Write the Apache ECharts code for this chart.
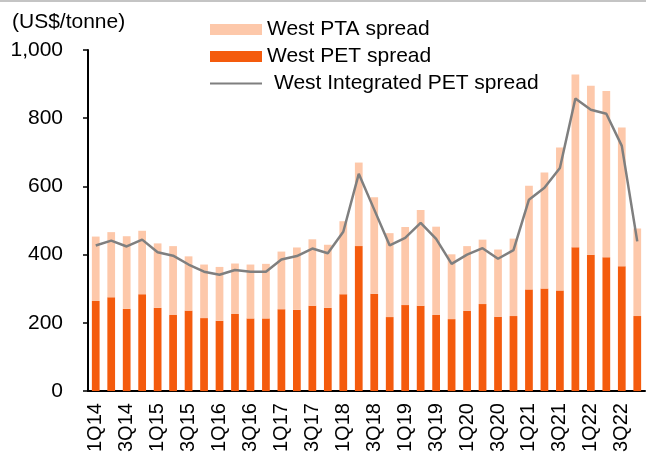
<!DOCTYPE html>
<html>
<head>
<meta charset="utf-8">
<script src="https://cdn.jsdelivr.net/npm/echarts@6/dist/echarts.min.js"></script>
<style>
  html, body { margin: 0; padding: 0; background: #fff; }
  #chart { width: 646px; height: 455px; }
</style>
</head>
<body>
<div id="chart"></div>
<script>
// 四半期ラベル
const quarters = [
  '1Q14', '2Q14', '3Q14', '4Q14', '1Q15', '2Q15', '3Q15', '4Q15',
  '1Q16', '2Q16', '3Q16', '4Q16', '1Q17', '2Q17', '3Q17', '4Q17',
  '1Q18', '2Q18', '3Q18', '4Q18', '1Q19', '2Q19', '3Q19', '4Q19',
  '1Q20', '2Q20', '3Q20', '4Q20', '1Q21', '2Q21', '3Q21', '4Q21',
  '1Q22', '2Q22', '3Q22', '4Q22',
];
// West PET spread (積み上げ下段)
const petSpread = [
  264, 275, 241, 284, 244, 223, 236, 214, 206, 226, 213, 213,
  240, 238, 250, 244, 284, 425, 285, 217, 252, 250, 223, 211,
  235, 255, 218, 220, 298, 301, 295, 422, 400, 392, 366, 220,
];
// West PTA spread (積み上げ上段)
const ptaSpread = [
  189, 191, 213, 186, 189, 202, 159, 157, 158, 148, 158, 160,
  169, 183, 195, 185, 214, 245, 283, 246, 229, 281, 259, 190,
  190, 189, 197, 227, 304, 340, 419, 506, 495, 488, 407, 257,
];
// West Integrated PET spread (折れ線)
const integratedSpread = [
  427, 441, 424, 444, 407, 397, 371, 350, 341, 355, 350, 350,
  386, 396, 418, 404, 467, 637, 532, 427, 449, 493, 446, 373,
  400, 419, 388, 413, 561, 596, 654, 858, 825, 813, 719, 439,
];
const yTicks = { min: 0, max: 1000, interval: 200 };

const font = 'Liberation Sans, Arial, sans-serif';
const chart = echarts.init(document.getElementById('chart'), null, { renderer: 'canvas' });
chart.setOption({
  backgroundColor: '#fff',
  animation: false,
  textStyle: { fontFamily: font, color: '#000' },
  graphic: [
    { type: 'rect', shape: { x: 0, y: 0, width: 646, height: 2 }, style: { fill: '#c4c4c4' } },
  ],
  title: {
    text: '(US$/tonne)',
    left: 7,
    top: 7,
    textStyle: { fontFamily: font, fontSize: 21, fontWeight: 'normal', color: '#000' },
  },
  legend: {
    orient: 'vertical',
    left: 204,
    top: 14,
    itemWidth: 52,
    itemHeight: 11,
    itemGap: 6,
    textStyle: { fontFamily: font, fontSize: 21, color: '#000', lineHeight: 21 },
    data: [
      { name: 'West PTA spread', icon: 'rect' },
      { name: 'West PET spread', icon: 'rect' },
      {
        name: 'West Integrated PET spread',
        itemStyle: { opacity: 0 },
        textStyle: { padding: [0, 0, 0, 7] },
      },
    ],
  },
  grid: { left: 88, right: 1, top: 50, bottom: 63 },
  xAxis: {
    type: 'category',
    data: quarters,
    axisLine: { lineStyle: { color: '#000', width: 2 } },
    axisTick: { interval: 0, length: 5, lineStyle: { color: '#000', width: 1.5 } },
    axisLabel: { interval: 1, rotate: 90, margin: 12, fontSize: 20, color: '#000', fontFamily: font },
  },
  yAxis: {
    type: 'value',
    min: yTicks.min,
    max: yTicks.max,
    interval: yTicks.interval,
    axisLine: { show: true, lineStyle: { color: '#000', width: 2 } },
    axisTick: { show: true, length: 5, lineStyle: { color: '#000', width: 1.5 } },
    axisLabel: {
      margin: 25,
      fontSize: 21,
      color: '#000',
      fontFamily: font,
      formatter: (v) => v.toLocaleString('en-US'),
    },
    splitLine: { show: false },
  },
  series: [
    {
      name: 'West PET spread',
      type: 'bar',
      stack: 'spread',
      barWidth: '50%',
      data: petSpread,
      itemStyle: { color: '#f45b0d' },
    },
    {
      name: 'West PTA spread',
      type: 'bar',
      stack: 'spread',
      barWidth: '50%',
      data: ptaSpread,
      itemStyle: { color: '#fdc8aa' },
    },
    {
      name: 'West Integrated PET spread',
      type: 'line',
      data: integratedSpread,
      symbol: 'none',
      lineStyle: { color: '#7f7f7f', width: 2.5 },
      itemStyle: { color: '#7f7f7f' },
      z: 5,
    },
  ],
});
window.addEventListener('resize', () => chart.resize());
</script>
</body>
</html>
